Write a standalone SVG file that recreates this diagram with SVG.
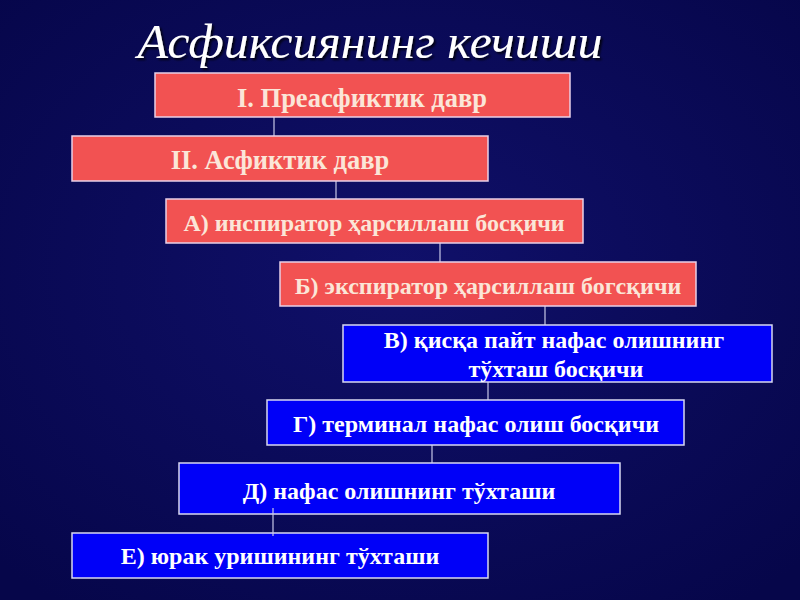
<svg xmlns="http://www.w3.org/2000/svg" width="800" height="600" viewBox="0 0 800 600">
<defs>
<radialGradient id="bg" cx="50%" cy="45%" r="70%">
<stop offset="0" stop-color="#10106a"/>
<stop offset="1" stop-color="#06064a"/>
</radialGradient>
<filter id="sh" x="-10%" y="-20%" width="120%" height="150%">
<feDropShadow dx="2" dy="2" stdDeviation="1" flood-color="#000000" flood-opacity="0.8"/>
</filter>
</defs>
<style>
.red{fill:#f25252;stroke:#e8d0e8;stroke-width:1.5}
.blue{fill:#0000f8;stroke:#d8d8f0;stroke-width:1.5}
.t{font-family:"Liberation Serif","Times New Roman",serif;font-weight:bold;font-size:24px;text-anchor:middle}
.big{font-size:26.5px}
.tr{fill:#fbe6d8}
.tb{fill:#ffffff}
.c{stroke:#c8c8e8;stroke-width:1.2;fill:none}
</style>
<rect width="800" height="600" fill="url(#bg)"/>
<text x="370" y="58" font-family="Liberation Serif, serif" font-style="italic" font-size="48" fill="#ffffff" text-anchor="middle" textLength="465" lengthAdjust="spacingAndGlyphs" filter="url(#sh)">Асфиксиянинг кечиши</text>
<g id="connectors">
<line class="c" x1="274" y1="117" x2="274" y2="136"/>
<line class="c" x1="336" y1="181" x2="336" y2="199"/>
<line class="c" x1="440" y1="243" x2="440" y2="262"/>
<line class="c" x1="545" y1="306" x2="545" y2="325"/>
<line class="c" x1="488" y1="382" x2="488" y2="400"/>
<line class="c" x1="432" y1="445" x2="432" y2="463"/>
</g>
<g id="n1"><rect class="red" x="155" y="73" width="415" height="44"/><text class="t big tr" x="362" y="107">I. Преасфиктик давр</text></g>
<g id="n2"><rect class="red" x="72" y="136" width="416" height="45"/><text class="t big tr" x="280" y="169">II. Асфиктик давр</text></g>
<g id="n3"><rect class="red" x="166" y="199" width="417" height="44"/><text class="t tr" x="374" y="231">А) инспиратор ҳарсиллаш босқичи</text></g>
<g id="n4"><rect class="red" x="280" y="262" width="416" height="44"/><text class="t tr" x="488" y="294">Б) экспиратор ҳарсиллаш богсқичи</text></g>
<g id="n5"><rect class="blue" x="343" y="325" width="429" height="57"/><text class="t tb" x="554" y="348">В) қисқа пайт нафас олишнинг</text><text class="t tb" x="556" y="377">тўхташ босқичи</text></g>
<g id="n6"><rect class="blue" x="267" y="400" width="417" height="45"/><text class="t tb" x="476" y="432">Г) терминал нафас олиш босқичи</text></g>
<g id="n7"><rect class="blue" x="179" y="463" width="441" height="51"/><text class="t tb" x="399" y="499">Д) нафас олишнинг тўхташи</text></g>
<g id="n8"><rect class="blue" x="72" y="533" width="416" height="45"/><text class="t tb" x="280" y="564">Е) юрак уришининг тўхташи</text></g>
<g id="connectors-top"><line class="c" x1="273" y1="508" x2="273" y2="536"/></g>
</svg>
